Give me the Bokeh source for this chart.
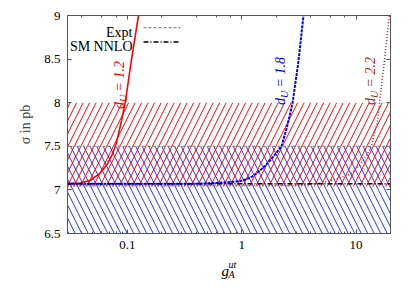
import math
from bokeh.plotting import figure
from bokeh.layouts import column
from bokeh.models import (Range1d, LogAxis, LinearAxis, BoxAnnotation, Span, Label,
                          Arrow, FixedTicker, LogTicker)
from bokeh.embed import file_html
from bokeh.resources import INLINE

# ---------------- data ----------------
x_lim = [0.03, 20.0]
y_lim = [6.5, 9.0]
x_ticks = [0.1, 1, 10]
x_tick_labels = ["0.1", "1", "10"]
y_ticks = [6.5, 7, 7.5, 8, 8.5, 9]
y_tick_labels = ["6.5", "7", "7.5", "8", "8.5", "9"]

expt_value = 7.5
sm_nnlo_value = 7.07
red_band = [7.04, 8.0]
blue_band = [6.5, 7.5]

d12_x = [0.03, 0.039, 0.0476, 0.0582, 0.0671, 0.0742, 0.0804, 0.0889, 0.0964, 0.1087, 0.1253]
d12_y = [7.072, 7.08, 7.11, 7.195, 7.30, 7.41, 7.54, 7.79, 8.02, 8.49, 9.0]

d18_x = [0.03, 0.436, 0.72, 0.975, 1.19, 1.37, 1.61, 1.86, 2.23, 2.51, 2.78, 3.14, 3.47]
d18_y = [7.07, 7.072, 7.085, 7.10, 7.14, 7.195, 7.28, 7.37, 7.50, 7.74, 7.99, 8.48, 9.0]

d22_x = [0.03, 3.27, 5.19, 7.30, 8.93, 10.9, 12.3, 13.6, 15.4, 16.0, 17.7, 19.5]
d22_y = [7.046, 7.052, 7.084, 7.14, 7.18, 7.29, 7.39, 7.50, 7.79, 7.99, 8.48, 9.0]

d_values = ["1.2", "1.8", "2.2"]
legend_names = ["Expt", "SM NNLO"]

# ---------------- figure ----------------
SERIF = "Liberation Serif"
FRAME_COL = "#555555"
W = 407

p = figure(width=W, height=257, x_axis_type="log",
           x_range=Range1d(*x_lim), y_range=Range1d(*y_lim),
           output_backend="svg", toolbar_location=None,
           min_border_left=67, min_border_right=17,
           min_border_top=15, min_border_bottom=24)
p.grid.visible = False
p.outline_line_color = FRAME_COL
p.background_fill_color = "white"
p.border_fill_color = "white"

def style_axis(ax, labels=True):
    ax.axis_line_color = FRAME_COL
    ax.major_tick_line_color = FRAME_COL
    ax.minor_tick_line_color = FRAME_COL
    ax.major_tick_in = 4
    ax.major_tick_out = 0
    ax.minor_tick_in = 2
    ax.minor_tick_out = 0
    ax.major_label_text_font = SERIF
    ax.major_label_text_color = "black"
    if labels:
        ax.major_label_text_font_size = "13px"
        ax.major_label_standoff = 7
    else:
        ax.major_label_text_font_size = "1px"
        ax.major_label_text_alpha = 0
        ax.major_label_standoff = 0

# bottom
xax = p.xaxis[0]
style_axis(xax)
xax.major_label_overrides = dict(zip(x_ticks, x_tick_labels))
# left
yax = p.yaxis[0]
yax.ticker = FixedTicker(ticks=y_ticks, minor_ticks=[])
yax.major_label_overrides = dict(zip(y_ticks, y_tick_labels))
style_axis(yax)
yax.axis_label = "\u03c3 in pb"
yax.axis_label_text_font = SERIF
yax.axis_label_text_font_style = "normal"
yax.axis_label_text_font_size = "14px"
yax.axis_label_standoff = 8

# mirror axes
top_ax = LogAxis(ticker=LogTicker())
style_axis(top_ax, labels=False)
p.add_layout(top_ax, "above")
right_ax = LinearAxis(ticker=FixedTicker(ticks=y_ticks, minor_ticks=[]))
style_axis(right_ax, labels=False)
p.add_layout(right_ax, "right")

# hatched bands
p.add_layout(BoxAnnotation(bottom=blue_band[0], top=blue_band[1], fill_color=None,
                           line_color=None, hatch_pattern="\\", hatch_color="#2233ff",
                           hatch_scale=13, hatch_weight=1, level="underlay"))
p.add_layout(BoxAnnotation(bottom=red_band[0], top=red_band[1], fill_color=None,
                           line_color=None, hatch_pattern="/", hatch_color="#ff0000",
                           hatch_scale=13, hatch_weight=1, level="underlay"))

# reference lines
expt_style = dict(line_color="#888888", line_dash="3 2", line_width=1.2)
sm_style = dict(line_color="black", line_dash="5 2 1 2", line_width=1.5)
p.add_layout(Span(location=expt_value, dimension="width", **expt_style))
p.add_layout(Span(location=sm_nnlo_value, dimension="width", **sm_style))

# curves
c12 = dict(line_color="#ff0000", line_width=1.6)
c18 = dict(line_color="#0000ff", line_width=2, line_dash="3 1")
c22 = dict(line_color="#a52a2a", line_width=1.5, line_dash="1 2")
p.line(d12_x, d12_y, **c12)
p.line(d18_x, d18_y, **c18)
p.line(d22_x, d22_y, **c22)

# rotated curve labels  d_U = value
label_pos = [(52, 124.5), (213, 128.5), (303, 128.5)]
label_col = ["#ff0000", "#0000ff", "#a52a2a"]
for val, (X, Y), col in zip(d_values, label_pos, label_col):
    common = dict(x_units="screen", y_units="screen", angle=math.pi / 2,
                  text_font=SERIF, text_font_style="italic", text_color=col,
                  text_align="left", text_baseline="alphabetic")
    p.add_layout(Label(x=X, y=Y, text="d", text_font_size="14px", **common))
    p.add_layout(Label(x=X + 4, y=Y + 7, text="U", text_font_size="10px", **common))
    p.add_layout(Label(x=X, y=Y + 17.5, text="= " + val, text_font_size="14px", **common))

# legend (text right-aligned, sample to its right)
leg_text_y = [201.5, 187]
leg_line_y = [205.8, 191.5]
for name, ty, ly, st in zip(legend_names, leg_text_y, leg_line_y, [expt_style, sm_style]):
    p.add_layout(Label(x=65, y=ty, x_units="screen", y_units="screen", text=name,
                       text_font=SERIF, text_font_size="14px", text_color="black",
                       text_align="right", text_baseline="alphabetic"))
    p.add_layout(Arrow(start=None, end=None, x_start=76, y_start=ly, x_end=113, y_end=ly,
                       start_units="screen", end_units="screen", **st))

# ---------------- x-axis title strip: g_A^{ut} ----------------
H2 = 30
q = figure(width=W, height=H2, x_range=Range1d(0, W), y_range=Range1d(0, H2),
           output_backend="svg", toolbar_location=None,
           x_axis_location=None, y_axis_location=None,
           min_border_left=0, min_border_right=0, min_border_top=0, min_border_bottom=0)
q.grid.visible = False
q.outline_line_color = None
q.border_fill_color = "white"
q.background_fill_color = "white"
xl = dict(x_units="screen", y_units="screen", text_font=SERIF, text_font_style="italic",
          text_color="black", text_align="left", text_baseline="alphabetic")
# frame of this strip is aligned with the main plot's frame by the column layout
q.add_layout(Label(x=154, y=17, text="g", text_font_size="15px", **xl))
q.add_layout(Label(x=161, y=23, text="ut", text_font_size="10px", **xl))
q.add_layout(Label(x=161, y=13.5, text="A", text_font_size="10px", **xl))

layout = column(p, q, spacing=0)
open("out.html", "w").write(file_html(layout, INLINE))
